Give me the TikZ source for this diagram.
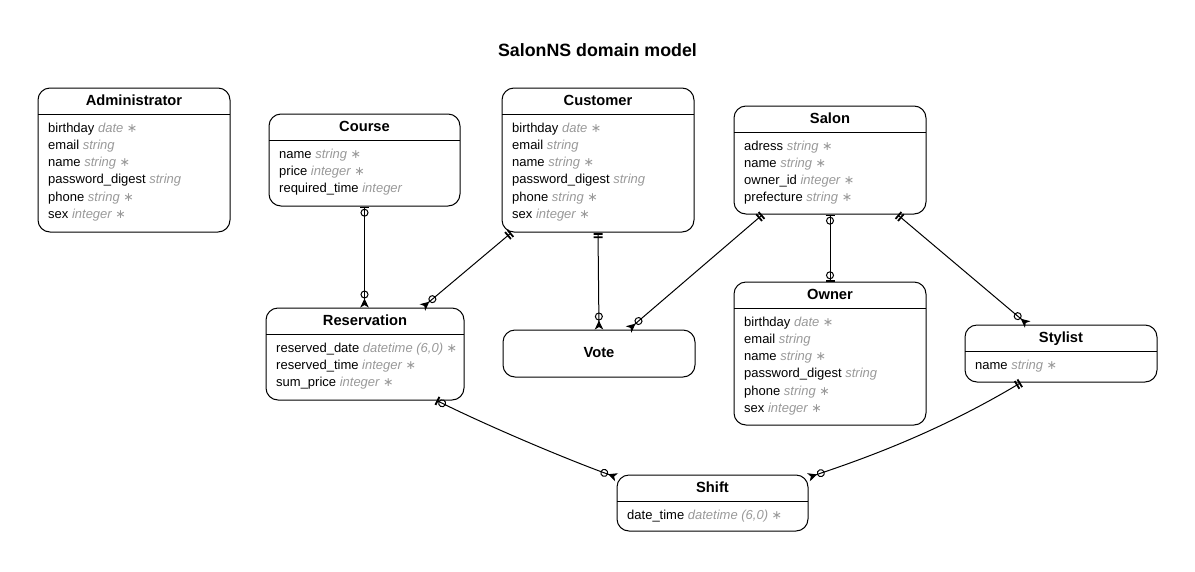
\documentclass[tikz,border=0pt]{standalone}
\usepackage{fontspec}
\setmainfont{Liberation Sans}
\newfontfamily\symf{DejaVu Sans}
\usetikzlibrary{arrows.meta}
\definecolor{typegray}{HTML}{999999}
\newcommand\req{{\symf\fontsize{12.5}{14}\selectfont ∗}}
\tikzset{
  ebox/.style={draw, line width=1pt, rounded corners=12pt, inner sep=0pt},
  etitle/.style={font=\fontsize{14.7}{17}\selectfont\bfseries, inner sep=0pt, anchor=base},
  eattr/.style={font=\fontsize{13}{15}\selectfont, inner sep=0pt, anchor=base west},
  hline/.style={line width=1pt},
  conn/.style={draw, line width=1pt},
  exone/.tip={Bar[width=9pt,line width=1.8pt,sep=1.4pt] Bar[width=9pt,line width=1.8pt,sep=0.6pt]},
  zone/.tip={Circle[open,length=8pt,line width=1pt,sep=0.4pt] Bar[width=9pt,line width=1.8pt]},
  zmany/.tip={Circle[open,length=8pt,line width=1pt] Stealth[reversed,length=9pt,width=8.5pt,inset=2.5pt]},
}
% #1 name, #2 L, #3 T, #4 R, #5 B, #6 title
\newcommand\entity[6]{%
  \node[ebox, minimum width={(#4-#2)*1pt}, minimum height={(#5-#3)*1pt}] (#1) at ({(#2+#4)/2},{(#3+#5)/2}) {};
  \node[etitle] (#1-title) at ({(#2+#4)/2},{#3+17}) {#6};
  \draw[hline] (#2,{#3+26.5}) -- (#4,{#3+26.5});
}
% #1 name, #2 L, #3 T, #4 list name/type
\newcommand\attrs[4]{%
  \foreach \an/\at [count=\i from 0] in {#4} {
    \node[eattr] (#1-a\i) at ({#2+10},{#3+44+17.3*\i}) {\an\ \textcolor{typegray}{\itshape\at}};
  }
}
\begin{document}
\begin{tikzpicture}[x=1pt,y=-1pt]
\useasboundingbox (0,0) rectangle (1195,571);
\node[font=\fontsize{17.8}{20}\selectfont\bfseries, inner sep=0pt, anchor=base] (title) at (597.5,56.7) {SalonNS domain model};

\entity{admin}{38}{88}{230}{232}{Administrator}
\attrs{admin}{38}{88}{birthday/{date \req}, email/string, name/{string \req}, password\_digest/string, phone/{string \req}, sex/{integer \req}}

\entity{course}{269}{114}{460}{206}{Course}
\attrs{course}{269}{114}{name/{string \req}, price/{integer \req}, required\_time/integer}

\entity{cust}{502}{88}{694}{232}{Customer}
\attrs{cust}{502}{88}{birthday/{date \req}, email/string, name/{string \req}, password\_digest/string, phone/{string \req}, sex/{integer \req}}

\entity{salon}{734}{106}{926}{214}{Salon}
\attrs{salon}{734}{106}{adress/{string \req}, name/{string \req}, owner\_id/{integer \req}, prefecture/{string \req}}

\entity{resv}{266}{308}{464}{400}{Reservation}
\attrs{resv}{266}{308}{reserved\_date/{datetime (6,0) \req}, reserved\_time/{integer \req}, sum\_price/{integer \req}}

\node[ebox, minimum width=192pt, minimum height=47pt] (vote) at (599,353.5) {};
\node[etitle] (vote-title) at (599,357.5) {Vote};

\entity{owner}{734}{282}{926}{425}{Owner}
\attrs{owner}{734}{282}{birthday/{date \req}, email/string, name/{string \req}, password\_digest/string, phone/{string \req}, sex/{integer \req}}

\entity{stylist}{965}{325}{1157}{382}{Stylist}
\attrs{stylist}{965}{325}{name/{string \req}}

\entity{shift}{617}{475}{808}{531}{Shift}
\attrs{shift}{617}{475}{date\_time/{datetime (6,0) \req}}

\draw[conn, {zone}-{zmany}] (course.south) -- (course.south |- resv.north);
\draw[conn, {exone}-{zmany}] (cust.220) -- (resv.39);
\draw[conn, {exone}-{zmany}] (cust.south) -- (vote.north);
\draw[conn, {exone}-{zmany}] (salon.219) -- (vote.39);
\draw[conn, {zone}-{zone}] (salon.south) -- (owner.north);
\draw[conn, {exone}-{zmany}] (salon.321) -- (stylist.139);
\draw[conn, {zone}-{zmany}] (resv.327) .. controls +(50,25) and +(-50,-18) .. (shift.165);
\draw[conn, {exone}-{zmany}] (stylist.216) .. controls +(-80,48) and +(60,-20) .. (shift.15);
\end{tikzpicture}
\end{document}
